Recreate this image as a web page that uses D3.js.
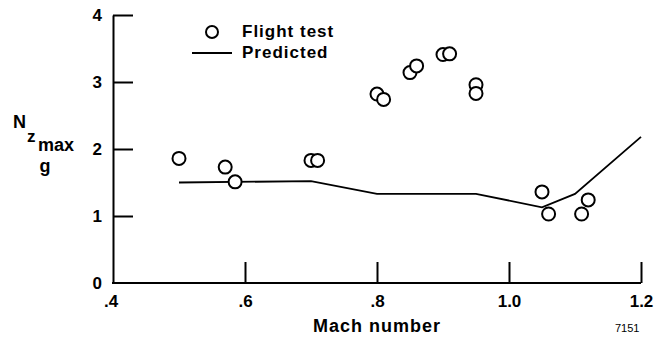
<!DOCTYPE html>
<meta charset="utf-8">
<head>
<style>
  body { margin: 0; background: #fff; }
  text { font-family: "Liberation Sans", Arial, sans-serif; font-weight: bold; fill: #000; }
  .axis path, .axis line { stroke: #000; stroke-width: 2; }
  .axis text { font-size: 17px; }
</style>
<title>Nz max vs Mach number</title>
</head>
<body>
<svg width="668" height="341" id="chart"></svg>
<script src="https://cdn.jsdelivr.net/npm/d3@7"></script>
<script>
  // flight test points
  const testMach = [0.50, 0.57, 0.585, 0.70, 0.71, 0.80, 0.81, 0.85, 0.86, 0.90, 0.91, 0.95, 0.95, 1.05, 1.06, 1.11, 1.12];
  const testNz   = [1.86, 1.73, 1.51, 1.83, 1.83, 2.82, 2.74, 3.14, 3.24, 3.41, 3.42, 2.96, 2.83, 1.36, 1.03, 1.03, 1.24];

  // predicted curve
  const predMach = [0.50, 0.70, 0.80, 0.95, 1.05, 1.10, 1.20];
  const predNz   = [1.50, 1.52, 1.33, 1.33, 1.13, 1.33, 2.18];

  const xTicks = [0.4, 0.6, 0.8, 1.0, 1.2];
  const xTickLabels = [".4", ".6", ".8", "1.0", "1.2"];
  const yTicks = [0, 1, 2, 3, 4];

  const svg = d3.select('#chart');

  const x = d3.scaleLinear().domain([0.4, 1.2]).range([113, 641]);
  const y = d3.scaleLinear().domain([0, 4]).range([283, 15]);

  // axes
  const xAxis = d3.axisBottom(x)
      .tickValues(xTicks.slice(1))
      .tickFormat(d => xTickLabels[xTicks.indexOf(d)])
      .tickSizeInner(-21)
      .tickSizeOuter(0)
      .tickPadding(12);

  const xg = svg.append('g').attr('class', 'axis')
      .attr('transform', `translate(0,${y(0)})`)
      .call(xAxis);
  // .4 label sits on the corner
  xg.append('text')
      .attr('x', x(0.4) - 2).attr('y', 12).attr('dy', '0.71em')
      .attr('text-anchor', 'middle').style('font-size', '17px')
      .text(xTickLabels[0]);

  const yAxis = d3.axisLeft(y)
      .tickValues(yTicks)
      .tickFormat(d3.format('d'))
      .tickSizeInner(-20)
      .tickSizeOuter(0)
      .tickPadding(11);

  const yg = svg.append('g').attr('class', 'axis')
      .attr('transform', `translate(${x(0.4)},0)`)
      .call(yAxis);
  yg.selectAll('.tick').filter(d => d === 0).select('line').remove();
  xg.select('.domain').attr('d', `M${x(0.4) - 1},0H${x(1.2)}`);

  // predicted line
  const pred = predMach.map((m, i) => [m, predNz[i]]);
  svg.append('path')
      .datum(pred)
      .attr('fill', 'none')
      .attr('stroke', '#000')
      .attr('stroke-width', 1.8)
      .attr('d', d3.line().x(d => x(d[0])).y(d => y(d[1])));

  // flight test circles
  const pts = testMach.map((m, i) => [m, testNz[i]]);
  svg.selectAll('.pt')
    .data(pts)
    .enter().append('circle')
      .attr('class', 'pt')
      .attr('cx', d => x(d[0]))
      .attr('cy', d => y(d[1]))
      .attr('r', 6.5)
      .attr('fill', '#fff')
      .attr('stroke', '#000')
      .attr('stroke-width', 2);

  // legend
  svg.append('circle')
      .attr('cx', 212).attr('cy', 32).attr('r', 6)
      .attr('fill', '#fff').attr('stroke', '#000').attr('stroke-width', 2);
  svg.append('text').attr('x', 242).attr('y', 37)
      .style('font-size', '17px').style('letter-spacing', '1px')
      .text('Flight test');
  svg.append('line')
      .attr('x1', 192).attr('x2', 232).attr('y1', 53).attr('y2', 53)
      .attr('stroke', '#000').attr('stroke-width', 1.8);
  svg.append('text').attr('x', 242).attr('y', 58)
      .style('font-size', '17px').style('letter-spacing', '1px')
      .text('Predicted');

  // axis titles
  svg.append('text')
      .attr('x', (x(0.4) + x(1.2)) / 2).attr('y', 332)
      .attr('text-anchor', 'middle')
      .style('font-size', '18px').style('letter-spacing', '1px')
      .text('Mach number');

  svg.append('text').attr('x', 13).attr('y', 128)
      .style('font-size', '18px').text('N');
  svg.append('text').attr('x', 27).attr('y', 142)
      .style('font-size', '17px').text('z');
  svg.append('text').attr('x', 38).attr('y', 151)
      .style('font-size', '18px').text('max');
  svg.append('text').attr('x', 45).attr('y', 172)
      .attr('text-anchor', 'middle')
      .style('font-size', '18px').text('g');

  svg.append('text').attr('x', 615).attr('y', 332)
      .style('font-size', '11px').style('font-weight', 'normal')
      .text('7151');
</script>
</body>
